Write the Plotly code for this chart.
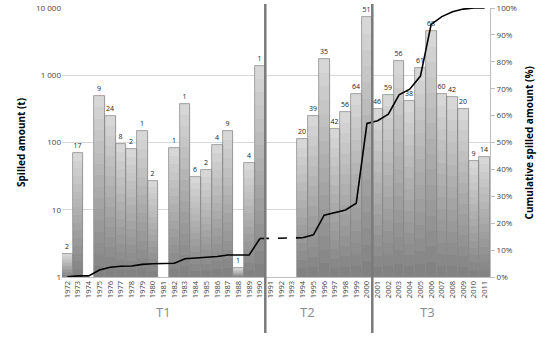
import plotly.graph_objects as go

years = [str(y) for y in range(1972, 2012)]
amount = [2.2, 70, None, 490, 247, 95, 79, 148, 27, None, 83, 372, 31, 39, 91, 148, 1.35, 49, 1380,
          None, None, None,
          111, 252, 1740, 158, 280, 530, 7230, 313, 511, 1620, 408, 1290, 4520, 519, 468, 313, 54, 61]
count = [2, 17, None, 9, 24, 8, 2, 1, 2, None, 1, 1, 6, 2, 4, 9, 1, 4, 1,
         None, None, None,
         20, 39, 35, 42, 56, 64, 51, 46, 59, 56, 38, 61, 68, 60, 42, 20, 9, 14]
cumulative = [0.1, 0.4, 0.4, 2.6, 3.6, 4.0, 4.1, 4.7, 4.9, 4.9, 5.1, 6.8, 7.1, 7.3, 7.6, 8.2, 8.2, 8.2, 14.3,
              None, None, None,
              14.6, 15.7, 23, 24, 24.9, 27.4, 57.1, 58.1, 60.5, 67.7, 69.8, 74.7, 93.9, 96.8, 98.6, 99.6, 100, 100]
periods = ["T1", "T2", "T3"]

FONT = "Open Sans"
fig = go.Figure()

# gradient bars: stacked segments in log space
N = 16
dark, light = 128, 218
for i in range(N):
    base, seg = [], []
    for v in amount:
        if v is None:
            base.append(None); seg.append(None)
        else:
            b0 = v ** (i / N)
            b1 = v ** ((i + 1) / N)
            base.append(b0); seg.append(b1 - b0)
    g = int(dark + (light - dark) * (i + 0.5) / N)
    fig.add_trace(go.Bar(x=years, y=seg, base=base, marker=dict(color=f"rgb({g},{g},{g})", line=dict(width=0)),
                         showlegend=False, hoverinfo="skip"))

# outline + labels
fig.add_trace(go.Bar(x=years, y=amount, marker=dict(color="rgba(0,0,0,0)", line=dict(color="#8a8a8a", width=0.8)),
                     text=[("" if c is None else str(c)) for c in count], textposition="outside",
                     textfont=dict(family=FONT, size=7, color="#222"), cliponaxis=False, showlegend=False))

# cumulative line
fig.add_trace(go.Scatter(x=years, y=cumulative, yaxis="y2", mode="lines", line=dict(color="black", width=1.6),
                         connectgaps=False, showlegend=False))
i0, i1 = years.index("1990"), years.index("1994")
fig.add_trace(go.Scatter(x=[years[i0], years[i1]], y=[cumulative[i0], cumulative[i1]], yaxis="y2", mode="lines",
                         line=dict(color="black", width=1.6, dash="dash"), showlegend=False))

for boundary in ["1990", "2000"]:
    xb = years.index(boundary) + 0.5
    fig.add_shape(type="line", xref="x", yref="paper", x0=xb, x1=xb, y0=-0.208, y1=1.015,
                  line=dict(color="#7a7a7a", width=2.5))

for label, xpos in zip(periods, [9.0, 22.4, 33.7]):
    fig.add_annotation(text=label, x=xpos, xref="x", y=-0.13, yref="paper", yanchor="middle", showarrow=False,
                       font=dict(family=FONT, size=13, color="#8a8a8a"))

fig.add_annotation(text="Spilled amount (t)", xref="paper", yref="paper", x=-0.118, y=0.5, textangle=-90,
                   showarrow=False, font=dict(family=FONT, size=10, color="black", weight="bold"))
fig.add_annotation(text="Cumulative spilled amount (%)", xref="paper", yref="paper", x=1.112, y=0.5, textangle=-90,
                   showarrow=False, font=dict(family=FONT, size=10, color="black", weight="bold"))

fig.update_layout(
    width=550, height=338, margin=dict(l=62, r=60, t=8, b=61, autoexpand=False),
    paper_bgcolor="white", plot_bgcolor="white",
    barmode="overlay", bargap=0,
    xaxis=dict(type="category", tickangle=-90, tickfont=dict(family=FONT, size=7.5, color="#444"),
               showline=True, linecolor="#bfbfbf", showgrid=False, ticks="", automargin=False),
    yaxis=dict(type="log", range=[0, 4], tickvals=[1, 10, 100, 1000, 10000],
               ticktext=["1", "10", "100", "1 000", "10 000"], tickfont=dict(family=FONT, size=8, color="#444"),
               gridcolor="#d9d9d9", gridwidth=1, showline=False, zeroline=False, ticks="", automargin=False),
    yaxis2=dict(overlaying="y", side="right", range=[0, 100], dtick=10, ticksuffix="%",
                tickfont=dict(family=FONT, size=8, color="#444"), showgrid=False, showline=True,
                linecolor="#bfbfbf", ticks="outside", ticklen=4, tickcolor="#bfbfbf", zeroline=False,
                automargin=False),
)

fig.write_html("out.html", post_script="document.body.style.margin='0';", config={"displayModeBar": False})
